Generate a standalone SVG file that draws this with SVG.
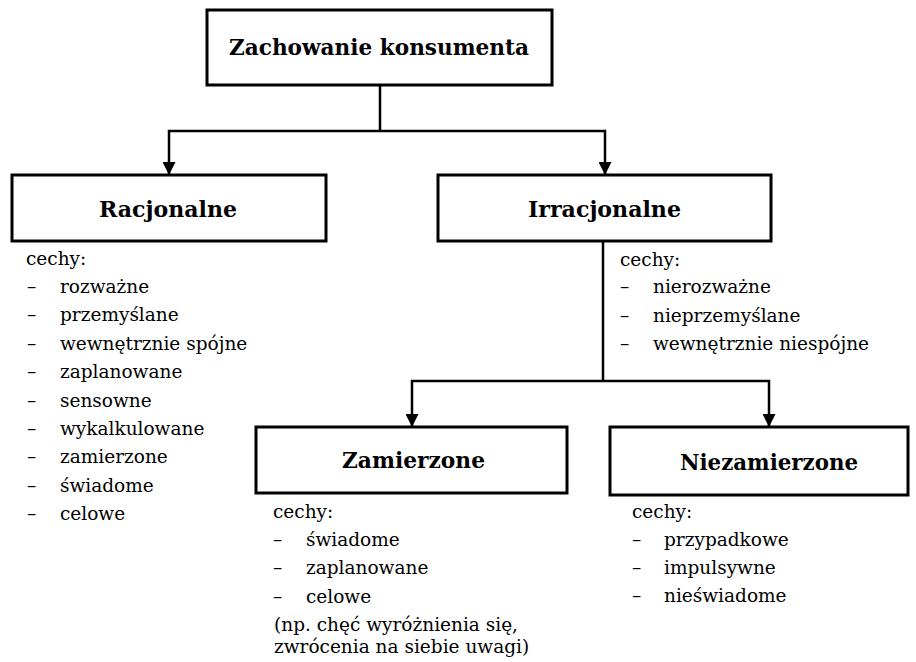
<svg xmlns="http://www.w3.org/2000/svg" width="916" height="662" viewBox="0 0 916 662">
<defs>
<marker id="arr" viewBox="0 0 10 10" refX="10" refY="5" markerWidth="13" markerHeight="13" markerUnits="userSpaceOnUse" orient="auto">
<path d="M0,0 L10,5 L0,10 z" fill="#000"/>
</marker>
</defs>
<rect width="916" height="662" fill="#fff"/>
<g id="connectors" fill="none" stroke="#000" stroke-width="2.5">
<path d="M380,85 V131"/>
<path d="M380,131 H169 V175" marker-end="url(#arr)"/>
<path d="M380,131 H605 V175" marker-end="url(#arr)"/>
<path d="M603,241 V381"/>
<path d="M603,381 H412 V427" marker-end="url(#arr)"/>
<path d="M603,381 H769 V427" marker-end="url(#arr)"/>
</g>
<g id="zachowanie">
<rect x="207" y="10" width="345" height="75" fill="#fff" stroke="#000" stroke-width="3"/>
<text font-family="DejaVu Serif, serif" font-weight="bold" font-size="23" text-anchor="middle" x="379" y="55" textLength="300" lengthAdjust="spacingAndGlyphs">Zachowanie konsumenta</text>
</g>
<g id="racjonalne">
<rect x="12" y="175" width="314" height="66" fill="#fff" stroke="#000" stroke-width="3"/>
<text font-family="DejaVu Serif, serif" font-weight="bold" font-size="23" text-anchor="middle" x="168" y="217" textLength="138" lengthAdjust="spacingAndGlyphs">Racjonalne</text>
<g font-family="DejaVu Serif, serif" font-size="18.5">
<text font-family="DejaVu Serif, serif" x="26" y="265">cechy:</text>
<text font-family="DejaVu Serif, serif" x="27" y="293">–</text><text font-family="DejaVu Serif, serif" x="60" y="293">rozważne</text>
<text font-family="DejaVu Serif, serif" x="27" y="321">–</text><text font-family="DejaVu Serif, serif" x="60" y="321">przemyślane</text>
<text font-family="DejaVu Serif, serif" x="27" y="350">–</text><text font-family="DejaVu Serif, serif" x="60" y="350">wewnętrznie spójne</text>
<text font-family="DejaVu Serif, serif" x="27" y="378">–</text><text font-family="DejaVu Serif, serif" x="60" y="378">zaplanowane</text>
<text font-family="DejaVu Serif, serif" x="27" y="407">–</text><text font-family="DejaVu Serif, serif" x="60" y="407">sensowne</text>
<text font-family="DejaVu Serif, serif" x="27" y="435">–</text><text font-family="DejaVu Serif, serif" x="60" y="435">wykalkulowane</text>
<text font-family="DejaVu Serif, serif" x="27" y="463">–</text><text font-family="DejaVu Serif, serif" x="60" y="463">zamierzone</text>
<text font-family="DejaVu Serif, serif" x="27" y="492">–</text><text font-family="DejaVu Serif, serif" x="60" y="492">świadome</text>
<text font-family="DejaVu Serif, serif" x="27" y="520">–</text><text font-family="DejaVu Serif, serif" x="60" y="520">celowe</text>
</g>
</g>
<g id="irracjonalne">
<rect x="438" y="175" width="333" height="66" fill="#fff" stroke="#000" stroke-width="3"/>
<text font-family="DejaVu Serif, serif" font-weight="bold" font-size="23" text-anchor="middle" x="604.5" y="217" textLength="153" lengthAdjust="spacingAndGlyphs">Irracjonalne</text>
<g font-family="DejaVu Serif, serif" font-size="18.5">
<text font-family="DejaVu Serif, serif" x="620" y="266">cechy:</text>
<text font-family="DejaVu Serif, serif" x="620" y="293">–</text><text font-family="DejaVu Serif, serif" x="653" y="293">nierozważne</text>
<text font-family="DejaVu Serif, serif" x="620" y="322">–</text><text font-family="DejaVu Serif, serif" x="653" y="322">nieprzemyślane</text>
<text font-family="DejaVu Serif, serif" x="620" y="350">–</text><text font-family="DejaVu Serif, serif" x="653" y="350">wewnętrznie niespójne</text>
</g>
</g>
<g id="zamierzone">
<rect x="256" y="427" width="311" height="66" fill="#fff" stroke="#000" stroke-width="3"/>
<text font-family="DejaVu Serif, serif" font-weight="bold" font-size="23" text-anchor="middle" x="413.5" y="468" textLength="143" lengthAdjust="spacingAndGlyphs">Zamierzone</text>
<g font-family="DejaVu Serif, serif" font-size="18.5">
<text font-family="DejaVu Serif, serif" x="273" y="518">cechy:</text>
<text font-family="DejaVu Serif, serif" x="273" y="546">–</text><text font-family="DejaVu Serif, serif" x="306" y="546">świadome</text>
<text font-family="DejaVu Serif, serif" x="273" y="574">–</text><text font-family="DejaVu Serif, serif" x="306" y="574">zaplanowane</text>
<text font-family="DejaVu Serif, serif" x="273" y="603">–</text><text font-family="DejaVu Serif, serif" x="306" y="603">celowe</text>
<text font-family="DejaVu Serif, serif" x="274" y="631">(np. chęć wyróżnienia się,</text>
<text font-family="DejaVu Serif, serif" x="274" y="653">zwrócenia na siebie uwagi)</text>
</g>
</g>
<g id="niezamierzone">
<rect x="610" y="427" width="298" height="68" fill="#fff" stroke="#000" stroke-width="3"/>
<text font-family="DejaVu Serif, serif" font-weight="bold" font-size="23" text-anchor="middle" x="769" y="470" textLength="178" lengthAdjust="spacingAndGlyphs">Niezamierzone</text>
<g font-family="DejaVu Serif, serif" font-size="18.5">
<text font-family="DejaVu Serif, serif" x="632" y="518">cechy:</text>
<text font-family="DejaVu Serif, serif" x="632" y="546">–</text><text font-family="DejaVu Serif, serif" x="664" y="546">przypadkowe</text>
<text font-family="DejaVu Serif, serif" x="632" y="574">–</text><text font-family="DejaVu Serif, serif" x="664" y="574">impulsywne</text>
<text font-family="DejaVu Serif, serif" x="632" y="602">–</text><text font-family="DejaVu Serif, serif" x="664" y="602">nieświadome</text>
</g>
</g>
</svg>
